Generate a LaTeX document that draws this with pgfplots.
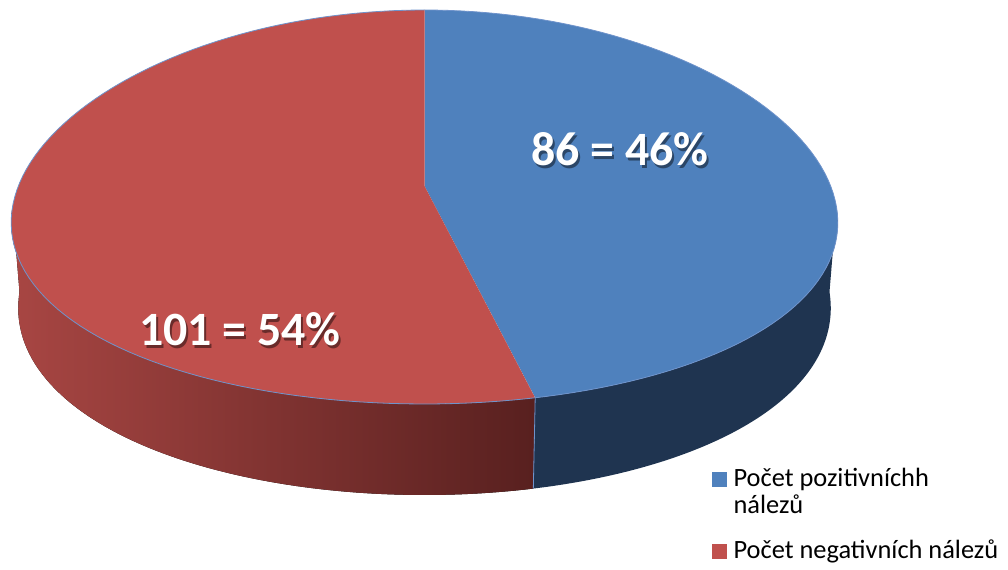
\documentclass[border=0pt]{standalone}
\usepackage{fontspec}
\setmainfont{Carlito}
\usepackage{pgfplots}
\pgfplotsset{compat=1.18}
\usepgfplotslibrary{fillbetween}
\definecolor{topblue}{HTML}{4F81BD}
\definecolor{topred}{HTML}{C0504D}
\definecolor{sideblue}{HTML}{1F3450}
\definecolor{sideredL}{HTML}{A84643}
\definecolor{sideredR}{HTML}{58201F}
\definecolor{edgeblue}{HTML}{6F93CB}
% data
\def\valPos{86}
\def\valNeg{101}
\pgfmathsetmacro\fracPos{\valPos/(\valPos+\valNeg)}
\pgfmathsetmacro\tEnd{90-360*\fracPos}
\pgfmathsetmacro\tEndB{360+\tEnd}
\begin{document}
\begin{tikzpicture}
\begin{axis}[scale only axis, width=1008bp, height=569bp,
  xmin=0, xmax=1008, ymin=0, ymax=569, y dir=reverse,
  hide axis, clip=false, samples=90,
  legend style={at={(axis cs:712,466)}, anchor=north west, draw=none, fill=none,
    inner sep=0pt, font=\fontsize{26.5}{27}\selectfont,
    cells={anchor=base west, align=left}, row sep=21bp, column sep=5bp}]
\path (rel axis cs:0,0) rectangle (rel axis cs:1,1);
% red side
\addplot[draw=none, forget plot, name path=rt, domain=180:\tEndB] ({424.5+412*cos(x)*(1-0.08*sin(x))},{207-197*sin(x)});
\addplot[draw=none, forget plot, name path=rb, domain=180:\tEndB] ({424.5+405*cos(x)*(1-0.08*sin(x))},{292-203*sin(x)});
\addplot[left color=sideredL, right color=sideredR, draw=none, forget plot] fill between[of=rt and rb];
% blue side
\addplot[draw=none, forget plot, name path=bt, domain=\tEndB:360] ({424.5+412*cos(x)*(1-0.08*sin(x))},{207-197*sin(x)});
\addplot[draw=none, forget plot, name path=bb, domain=\tEndB:360] ({424.5+405*cos(x)*(1-0.08*sin(x))},{292-203*sin(x)});
\addplot[fill=sideblue, draw=none, forget plot] fill between[of=bt and bb];
% divider on side
\addplot[edgeblue, line width=0.8bp, forget plot, samples=2, domain=0:1]
  ({424.5+(412*(1-x)+405*x)*cos(\tEnd)*(1-0.08*sin(\tEnd))},{(207*(1-x)+292*x)-(197*(1-x)+203*x)*sin(\tEnd)});
% top faces
\addplot[fill=topblue, draw=none, forget plot, domain=\tEnd:90] ({424.5+412*cos(x)*(1-0.08*sin(x))},{207-197*sin(x)}) -- (axis cs:424.5,186) -- cycle;
\addplot[fill=topred, draw=none, forget plot, domain=90:\tEndB] ({424.5+412*cos(x)*(1-0.08*sin(x))},{207-197*sin(x)}) -- (axis cs:424.5,186) -- cycle;
\addplot[edgeblue, line width=0.8bp, forget plot, domain=0:360, samples=180] ({424.5+412*cos(x)*(1-0.08*sin(x))},{207-197*sin(x)});
% labels
\node[text=black, opacity=0.45, font=\bfseries\fontsize{48}{52}\selectfont] at (axis cs:622,152) {86 = 46\%};
\node[text=white, font=\bfseries\fontsize{48}{52}\selectfont] at (axis cs:620,149) {86 = 46\%};
\node[text=black, opacity=0.45, font=\bfseries\fontsize{48}{52}\selectfont] at (axis cs:242,332) {101 = 54\%};
\node[text=white, font=\bfseries\fontsize{48}{52}\selectfont] at (axis cs:240,329) {101 = 54\%};
% legend
\addlegendimage{legend image code/.code={\fill[topblue] (0bp,27.5bp) rectangle (14bp,41.5bp);}}
\addlegendentry{Počet pozitivníchh\\nálezů}
\addlegendimage{legend image code/.code={\fill[topred] (0bp,0.5bp) rectangle (14bp,14.5bp);}}
\addlegendentry{Počet negativních nálezů}
\end{axis}
\end{tikzpicture}
\end{document}
